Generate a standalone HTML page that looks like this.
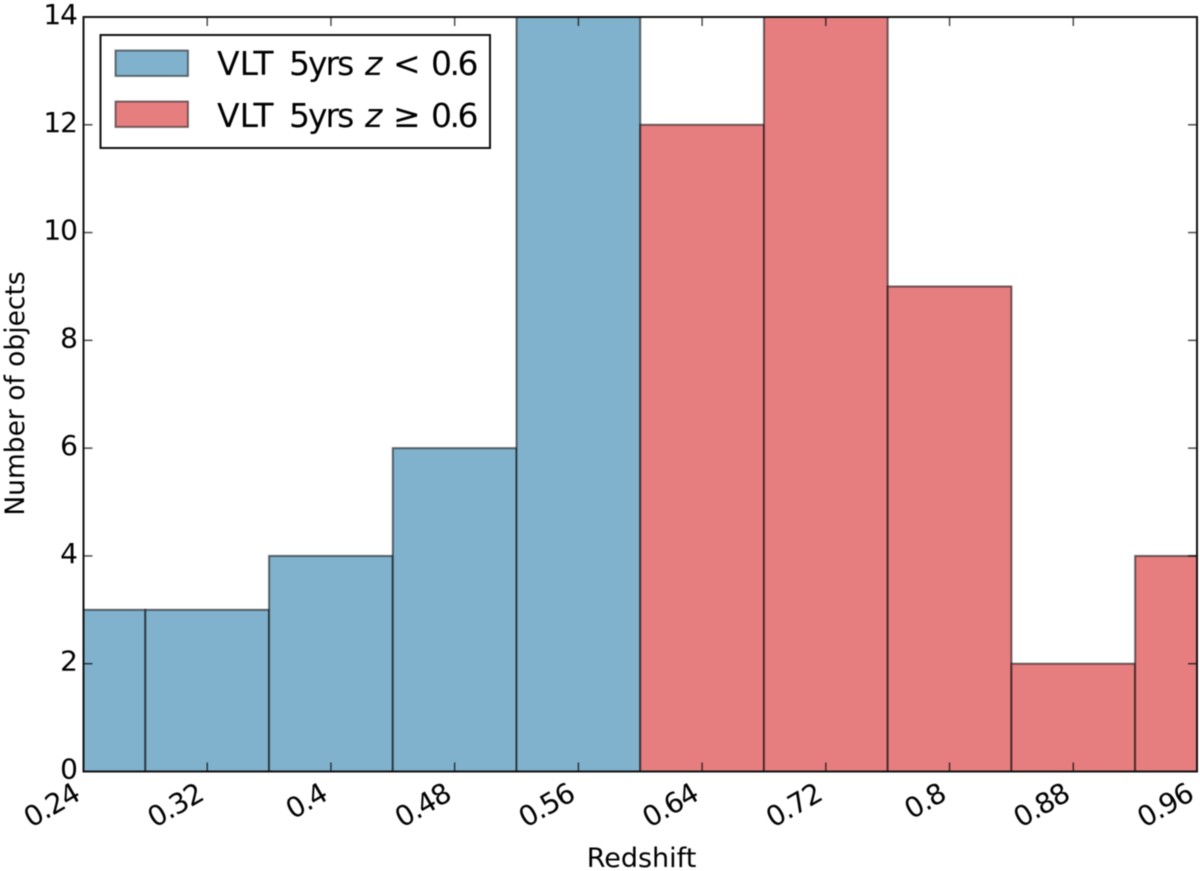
<!DOCTYPE html>
<html lang="en">
<head>
<meta charset="utf-8">
<title>Redshift histogram</title>
<style>
html,body{margin:0;padding:0;background:#fff;width:1200px;height:871px;overflow:hidden}
svg{display:block;filter:blur(0.4px)}
text{font-family:"DejaVu Sans","Liberation Sans",sans-serif;fill:#000}
</style>
</head>
<body>
<svg id="chart" xmlns="http://www.w3.org/2000/svg" width="1200" height="871" viewBox="0 0 1200 871">
  <defs><clipPath id="plot-clip"><rect x="83.5" y="17" width="1113.5" height="754.5"/></clipPath></defs>
  <g id="bars" clip-path="url(#plot-clip)"></g>
  <g id="ticks"></g>
  <rect x="83.5" y="17" width="1113.5" height="754.5" fill="none" stroke="#111" stroke-width="2"/>
  <g id="labels"></g>
  <text x="641.5" y="867" text-anchor="middle" font-size="27">Redshift</text>
  <text transform="translate(24,393.5) rotate(-90)" text-anchor="middle" font-size="26.5">Number of objects</text>
  <g>
    <rect x="100.5" y="35" width="389.5" height="113" fill="#fff" stroke="#111" stroke-width="2"/>
    <g>
      <rect x="115.5" y="50.5" width="72.5" height="25.5" fill="#81b2cd" stroke="#000" stroke-opacity="0.5" stroke-width="2"/>
      <text y="75" font-size="33"><tspan x="217">VLT</tspan> <tspan x="289" letter-spacing="-2">5yrs</tspan> <tspan x="365" font-style="italic">z</tspan> <tspan x="393">&lt;</tspan> <tspan x="431" letter-spacing="-2.5">0.6</tspan></text>
    </g>
    <g>
      <rect x="115.5" y="101.5" width="72.5" height="25.5" fill="#e67e80" stroke="#000" stroke-opacity="0.5" stroke-width="2"/>
      <text y="127" font-size="33"><tspan x="217">VLT</tspan> <tspan x="289" letter-spacing="-2">5yrs</tspan> <tspan x="365" font-style="italic">z</tspan> <tspan x="393">≥</tspan> <tspan x="431" letter-spacing="-2.5">0.6</tspan></text>
    </g>
  </g>
</svg>
<script>
const binEdges = [0.20, 0.28, 0.36, 0.44, 0.52, 0.60, 0.68, 0.76, 0.84, 0.92, 1.00];
const binCounts = [3, 3, 4, 6, 14, 12, 14, 9, 2, 4];
const xTickValues = [0.24, 0.32, 0.40, 0.48, 0.56, 0.64, 0.72, 0.80, 0.88, 0.96];
const xTickLabels = ["0.24", "0.32", "0.4", "0.48", "0.56", "0.64", "0.72", "0.8", "0.88", "0.96"];
const yTickValues = [0, 2, 4, 6, 8, 10, 12, 14];
const yTickLabels = ["0", "2", "4", "6", "8", "10", "12", "14"];
const splitRedshift = 0.6;

const NS = "http://www.w3.org/2000/svg";
const plotLeft = 83.5, plotRight = 1197, plotTop = 17, plotBottom = 771.5;
function xScale(v) { return plotLeft + (v - 0.24) / (0.96 - 0.24) * (plotRight - plotLeft); }
function yScale(v) { return plotBottom - v / 14 * (plotBottom - plotTop); }
function make(tag, attrs) {
  const el = document.createElementNS(NS, tag);
  for (const k in attrs) el.setAttribute(k, attrs[k]);
  return el;
}
const barsG = document.getElementById("bars");
binCounts.forEach(function (count, i) {
  const x0 = xScale(binEdges[i]), x1 = xScale(binEdges[i + 1]), y = yScale(count);
  const low = binEdges[i] < splitRedshift - 1e-9;
  const r = make("rect", { x: x0, y: y, width: x1 - x0, height: plotBottom - y,
    fill: low ? "#81b2cd" : "#e67e80", stroke: "#000", "stroke-opacity": 0.55, "stroke-width": 2 });
  
  
  barsG.appendChild(r);
});
const ticksG = document.getElementById("ticks");
const labelsG = document.getElementById("labels");
function tick(x1, y1, x2, y2) {
  const t = make("line", { x1: x1, y1: y1, x2: x2, y2: y2, stroke: "#000", "stroke-opacity": 0.7, "stroke-width": 1.5 });
  
  
  ticksG.appendChild(t);
}
xTickValues.forEach(function (v, i) {
  const x = xScale(v);
  tick(x, plotBottom, x, plotBottom - 9);
  tick(x, plotTop, x, plotTop + 9);
  const t = make("text", { transform: "translate(" + (x - 2) + ",799) rotate(-30)", "text-anchor": "end", "font-size": 28, "letter-spacing": -1 });
  t.textContent = xTickLabels[i];
  
  
  labelsG.appendChild(t);
});
yTickValues.forEach(function (v, i) {
  const y = yScale(v);
  tick(plotLeft, y, plotLeft + 9, y);
  tick(plotRight, y, plotRight - 9, y);
  const t = make("text", { x: 77, y: y + 7, "text-anchor": "end", "font-size": 28, "letter-spacing": -1 });
  t.textContent = yTickLabels[i];
  
  
  labelsG.appendChild(t);
});
</script>
</body>
</html>
